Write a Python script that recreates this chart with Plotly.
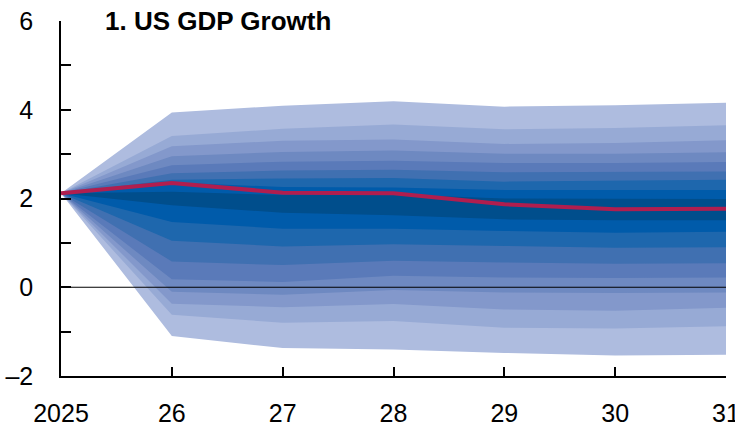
import plotly.graph_objects as go

# years on the x axis and their labels
years = [2025, 2026, 2027, 2028, 2029, 2030, 2031]
year_labels = ["2025", "26", "27", "28", "29", "30", "31"]

# median projection (red line)
median = [2.12, 2.35, 2.13, 2.12, 1.87, 1.76, 1.77]

# fan bands, outermost (1) to innermost (9): upper and lower edges
hi_1 = [2.12, 3.94, 4.09, 4.19, 4.07, 4.10, 4.16]
lo_1 = [2.12, -1.10, -1.37, -1.40, -1.48, -1.54, -1.52]
hi_2 = [2.12, 3.41, 3.57, 3.67, 3.56, 3.59, 3.65]
lo_2 = [2.12, -0.62, -0.80, -0.76, -0.91, -0.93, -0.88]
hi_3 = [2.12, 3.18, 3.30, 3.33, 3.23, 3.25, 3.31]
lo_3 = [2.12, -0.37, -0.45, -0.38, -0.50, -0.53, -0.46]
hi_4 = [2.12, 2.95, 3.05, 3.08, 3.01, 3.01, 3.04]
lo_4 = [2.12, -0.10, -0.17, -0.06, -0.12, -0.13, -0.12]
hi_5 = [2.12, 2.75, 2.83, 2.85, 2.80, 2.80, 2.82]
lo_5 = [2.12, 0.18, 0.12, 0.26, 0.22, 0.21, 0.22]
hi_6 = [2.12, 2.57, 2.63, 2.65, 2.59, 2.60, 2.61]
lo_6 = [2.12, 0.58, 0.50, 0.60, 0.56, 0.53, 0.54]
hi_7 = [2.12, 2.42, 2.45, 2.46, 2.38, 2.40, 2.42]
lo_7 = [2.12, 1.05, 0.92, 0.97, 0.93, 0.89, 0.90]
hi_8 = [2.12, 2.36, 2.26, 2.25, 2.19, 2.19, 2.19]
lo_8 = [2.12, 1.47, 1.32, 1.32, 1.27, 1.23, 1.25]
hi_9 = [2.12, 2.15, 2.08, 2.09, 2.00, 1.99, 1.99]
lo_9 = [2.12, 1.85, 1.68, 1.62, 1.53, 1.51, 1.51]

bands = [(hi_1, lo_1), (hi_2, lo_2), (hi_3, lo_3), (hi_4, lo_4), (hi_5, lo_5),
         (hi_6, lo_6), (hi_7, lo_7), (hi_8, lo_8), (hi_9, lo_9)]
band_colors = ["#aebcdf", "#97aad5", "#8398cb", "#6e89c1", "#5a7ab9",
               "#4070b1", "#1e67ad", "#005baa", "#004e8c"]

fig = go.Figure()

for (hi, lo), col in zip(bands, band_colors):
    fig.add_trace(go.Scatter(
        x=years + years[::-1],
        y=hi + lo[::-1],
        fill="toself",
        fillcolor=col,
        line=dict(width=0, color=col),
        mode="lines",
        hoverinfo="skip",
        showlegend=False,
    ))

fig.add_trace(go.Scatter(
    x=years, y=median, mode="lines",
    line=dict(color="#b01e4f", width=4),
    showlegend=False,
))

font_family = "Liberation Sans, Arial"

# zero line on top of the bands
fig.add_shape(type="line", xref="x", yref="y", x0=2025, x1=2031, y0=0, y1=0,
              line=dict(color="black", width=1.2), layer="above")

fig.add_annotation(
    text="<b>1. US GDP Growth</b>",
    xref="paper", yref="paper", x=0.063, y=1.0,
    xanchor="left", yanchor="middle", showarrow=False,
    font=dict(family=font_family, size=26, color="black"),
)

fig.update_layout(
    width=735, height=429,
    margin=dict(l=61, r=9, t=21, b=53),
    paper_bgcolor="white", plot_bgcolor="white",
    font=dict(family=font_family, size=25, color="black"),
    xaxis=dict(
        range=[2025, 2031], tickvals=years, ticktext=year_labels,
        showline=True, linecolor="black", linewidth=1.5,
        ticks="inside", ticklen=9, tickwidth=1.5, tickcolor="black",
        showgrid=False, zeroline=False, automargin=False,
        ticklabelstandoff=14, ticklabeloverflow="allow",
    ),
    yaxis=dict(
        range=[-2, 6], tickvals=[-2, -1, 0, 1, 2, 3, 4, 5, 6],
        ticktext=["\u20132", "", "0", "", "2", "", "4", "", "6"],
        showline=True, linecolor="black", linewidth=1.5,
        ticks="inside", ticklen=10, tickwidth=1.5, tickcolor="black",
        showgrid=False, zeroline=False, automargin=False,
        ticklabelstandoff=21, ticklabeloverflow="allow",
    ),
)

# drop the page's default body margin so the chart fills the window
fig.write_html("out.html", config={"displayModeBar": False},
               post_script="document.body.style.margin='0';")
